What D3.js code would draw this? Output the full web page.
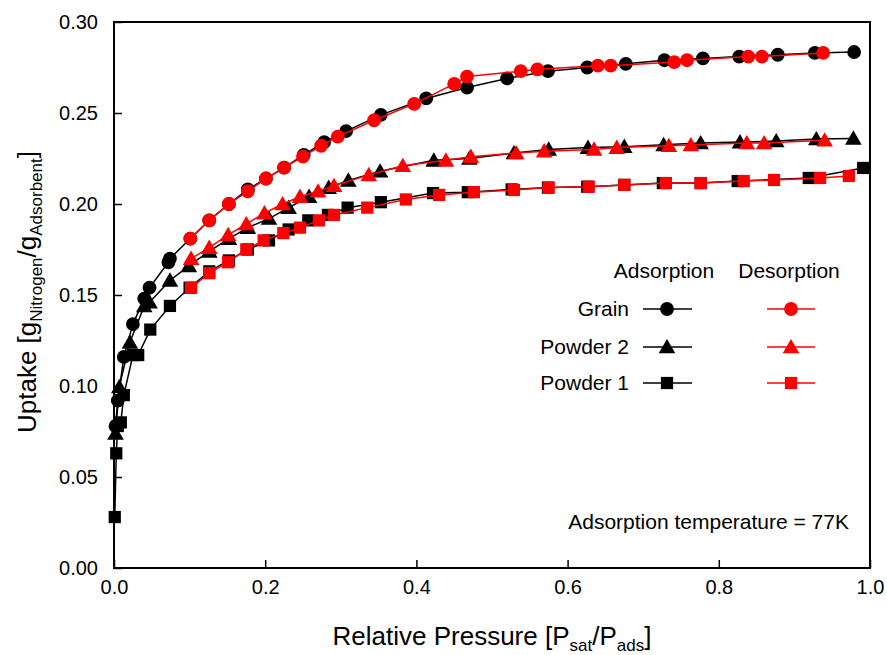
<!DOCTYPE html>
<html>
<head>
<meta charset="utf-8">
<script src="https://cdn.jsdelivr.net/npm/d3@7"></script>
<style>
  html, body { margin: 0; padding: 0; background: #fff; }
  svg { display: block; }
  text { font-family: "Liberation Sans", Arial, sans-serif; fill: #000; }
</style>
</head>
<body>
<svg id="chart" width="887" height="655"></svg>
<script>
// ---------------- data ----------------
const xTicks = [0.0, 0.2, 0.4, 0.6, 0.8, 1.0];
const yTicks = [0.00, 0.05, 0.10, 0.15, 0.20, 0.25, 0.30];

const grainAdsX = [0.002, 0.005, 0.013, 0.025, 0.040, 0.047, 0.072, 0.074, 0.101, 0.126, 0.152, 0.177, 0.201, 0.225, 0.251, 0.278, 0.307, 0.353, 0.413, 0.467, 0.520, 0.574, 0.626, 0.677, 0.728, 0.779, 0.827, 0.878, 0.927, 0.979];
const grainAdsY = [0.078, 0.092, 0.116, 0.134, 0.148, 0.154, 0.168, 0.170, 0.181, 0.191, 0.200, 0.208, 0.214, 0.220, 0.227, 0.234, 0.240, 0.249, 0.258, 0.264, 0.269, 0.273, 0.275, 0.277, 0.279, 0.280, 0.281, 0.282, 0.283, 0.2835];
const grainDesX = [0.101, 0.126, 0.152, 0.177, 0.201, 0.225, 0.250, 0.274, 0.296, 0.344, 0.397, 0.450, 0.467, 0.538, 0.560, 0.640, 0.657, 0.741, 0.758, 0.839, 0.857, 0.938];
const grainDesY = [0.181, 0.191, 0.200, 0.207, 0.214, 0.220, 0.226, 0.232, 0.237, 0.246, 0.255, 0.266, 0.270, 0.273, 0.274, 0.276, 0.276, 0.278, 0.279, 0.281, 0.281, 0.283];

const powder2AdsX = [0.002, 0.007, 0.021, 0.040, 0.047, 0.074, 0.099, 0.126, 0.152, 0.177, 0.205, 0.231, 0.258, 0.284, 0.310, 0.352, 0.423, 0.470, 0.529, 0.575, 0.627, 0.675, 0.727, 0.776, 0.828, 0.876, 0.929, 0.978];
const powder2AdsY = [0.074, 0.0995, 0.124, 0.144, 0.146, 0.158, 0.166, 0.174, 0.181, 0.187, 0.192, 0.198, 0.204, 0.209, 0.213, 0.218, 0.224, 0.225, 0.228, 0.230, 0.231, 0.2315, 0.2325, 0.2335, 0.234, 0.2346, 0.2357, 0.236];
const powder2DesX = [0.102, 0.126, 0.151, 0.175, 0.199, 0.223, 0.246, 0.270, 0.291, 0.337, 0.382, 0.439, 0.472, 0.532, 0.569, 0.635, 0.665, 0.734, 0.763, 0.837, 0.860, 0.940];
const powder2DesY = [0.170, 0.176, 0.183, 0.189, 0.195, 0.200, 0.204, 0.207, 0.210, 0.216, 0.221, 0.224, 0.226, 0.228, 0.229, 0.230, 0.231, 0.232, 0.2324, 0.2335, 0.2335, 0.235];

const powder1AdsX = [0.001, 0.003, 0.005, 0.009, 0.013, 0.025, 0.032, 0.048, 0.074, 0.100, 0.126, 0.152, 0.177, 0.205, 0.231, 0.257, 0.283, 0.309, 0.353, 0.422, 0.468, 0.526, 0.574, 0.626, 0.675, 0.726, 0.776, 0.825, 0.919, 0.991];
const powder1AdsY = [0.028, 0.063, 0.078, 0.080, 0.095, 0.117, 0.117, 0.131, 0.144, 0.154, 0.163, 0.169, 0.175, 0.180, 0.186, 0.191, 0.194, 0.198, 0.201, 0.206, 0.2065, 0.208, 0.209, 0.2095, 0.2105, 0.2115, 0.2115, 0.2126, 0.2143, 0.2198];
const powder1DesX = [0.102, 0.126, 0.151, 0.175, 0.198, 0.224, 0.246, 0.271, 0.291, 0.335, 0.386, 0.430, 0.476, 0.529, 0.575, 0.628, 0.675, 0.730, 0.776, 0.833, 0.873, 0.934, 0.972];
const powder1DesY = [0.154, 0.162, 0.168, 0.175, 0.180, 0.184, 0.187, 0.191, 0.194, 0.198, 0.2025, 0.205, 0.2065, 0.2077, 0.209, 0.2095, 0.2105, 0.2115, 0.2115, 0.2126, 0.2132, 0.2143, 0.2154];

const legendRows = ["Grain", "Powder 2", "Powder 1"];
const legendHeaders = ["Adsorption", "Desorption"];
const annotation = "Adsorption temperature = 77K";

// ---------------- layout ----------------
const BLACK = "#000000", RED = "#ff0000";
const svg = d3.select("#chart");
const x = d3.scaleLinear().domain([0, 1]).range([114, 870]);
const y = d3.scaleLinear().domain([0, 0.30]).range([568, 22]);

const zip = (xs, ys) => xs.map((v, i) => [v, ys[i]]);
const series = [
  { data: zip(grainAdsX, grainAdsY), color: BLACK, shape: "circle" },
  { data: zip(powder2AdsX, powder2AdsY), color: BLACK, shape: "triangle" },
  { data: zip(powder1AdsX, powder1AdsY), color: BLACK, shape: "square" },
  { data: zip(grainDesX, grainDesY), color: RED, shape: "circle" },
  { data: zip(powder2DesX, powder2DesY), color: RED, shape: "triangle" },
  { data: zip(powder1DesX, powder1DesY), color: RED, shape: "square" }
];

const symbolOf = {
  circle: d3.symbol().type(d3.symbolCircle).size(150),
  triangle: d3.symbol().type(d3.symbolTriangle).size(120),
  square: d3.symbol().type(d3.symbolSquare).size(150)
};

const line = d3.line().x(d => x(d[0])).y(d => y(d[1]));

const FONT = "Liberation Sans, Arial, sans-serif";
const tickFont = 20;

// axes (ticks inward)
const xAxis = d3.axisBottom(x).tickValues(xTicks).tickFormat(d3.format(".1f")).tickSizeInner(-8).tickSizeOuter(0).tickPadding(12);
const yAxis = d3.axisLeft(y).tickValues(yTicks).tickFormat(d3.format(".2f")).tickSizeInner(-8).tickSizeOuter(0).tickPadding(16);

const gx = svg.append("g").attr("transform", `translate(0,${y(0)})`).call(xAxis);
const gy = svg.append("g").attr("transform", `translate(${x(0)},0)`).call(yAxis);
[gx, gy].forEach(g => {
  g.select(".domain").remove();
  g.selectAll(".tick line").attr("stroke", BLACK).attr("stroke-width", 1.5);
  g.selectAll(".tick text").attr("font-size", tickFont).attr("font-family", FONT).attr("fill", BLACK);
});

// frame
svg.append("rect")
  .attr("x", x(0)).attr("y", y(0.30))
  .attr("width", x(1) - x(0)).attr("height", y(0) - y(0.30))
  .attr("fill", "none").attr("stroke", BLACK).attr("stroke-width", 2);

// series
series.forEach(s => {
  const g = svg.append("g");
  g.append("path").datum(s.data).attr("d", line)
    .attr("fill", "none").attr("stroke", s.color).attr("stroke-width", 1.5);
  g.selectAll("path.m").data(s.data).join("path").attr("class", "m")
    .attr("d", symbolOf[s.shape])
    .attr("transform", d => `translate(${x(d[0])},${y(d[1]) + (s.shape === "triangle" ? 1.5 : 0)})`)
    .attr("fill", s.color);
});

// legend
const legFont = 21;
svg.append("text").attr("x", 664).attr("y", 278).attr("text-anchor", "middle").attr("font-size", legFont).text(legendHeaders[0]);
svg.append("text").attr("x", 789).attr("y", 278).attr("text-anchor", "middle").attr("font-size", legFont).text(legendHeaders[1]);
const shapes = ["circle", "triangle", "square"];
const rowY = [309, 347, 383];
legendRows.forEach((name, i) => {
  const yy = rowY[i];
  svg.append("text").attr("x", 629).attr("y", yy + 7).attr("text-anchor", "end").attr("font-size", legFont).text(name);
  [[643, 692, 667, BLACK], [767, 815, 791, RED]].forEach(([x1, x2, cx, col]) => {
    svg.append("line").attr("x1", x1).attr("x2", x2).attr("y1", yy).attr("y2", yy).attr("stroke", col).attr("stroke-width", 1.5);
    svg.append("path").attr("d", symbolOf[shapes[i]]).attr("transform", `translate(${cx},${yy + (shapes[i] === "triangle" ? 1.5 : 0)})`).attr("fill", col);
  });
});

// annotation
svg.append("text").attr("x", 849).attr("y", 529).attr("text-anchor", "end").attr("font-size", legFont).text(annotation);

// x-axis title
const xt = svg.append("text").attr("x", 492).attr("y", 645).attr("text-anchor", "middle").attr("font-size", 26);
xt.append("tspan").text("Relative Pressure [P");
xt.append("tspan").attr("font-size", 17).attr("dy", 6).text("sat");
xt.append("tspan").attr("dy", -6).text("/P");
xt.append("tspan").attr("font-size", 17).attr("dy", 6).text("ads");
xt.append("tspan").attr("dy", -6).text("]");

// y-axis title
const yt = svg.append("text").attr("transform", "translate(36,292) rotate(-90)").attr("text-anchor", "middle").attr("font-size", 26);
yt.append("tspan").text("Uptake [g");
yt.append("tspan").attr("font-size", 17).attr("dy", 6).text("Nitrogen");
yt.append("tspan").attr("dy", -6).text("/g");
yt.append("tspan").attr("font-size", 17).attr("dy", 6).text("Adsorbent");
yt.append("tspan").attr("dy", -6).text("]");
</script>
</body>
</html>
